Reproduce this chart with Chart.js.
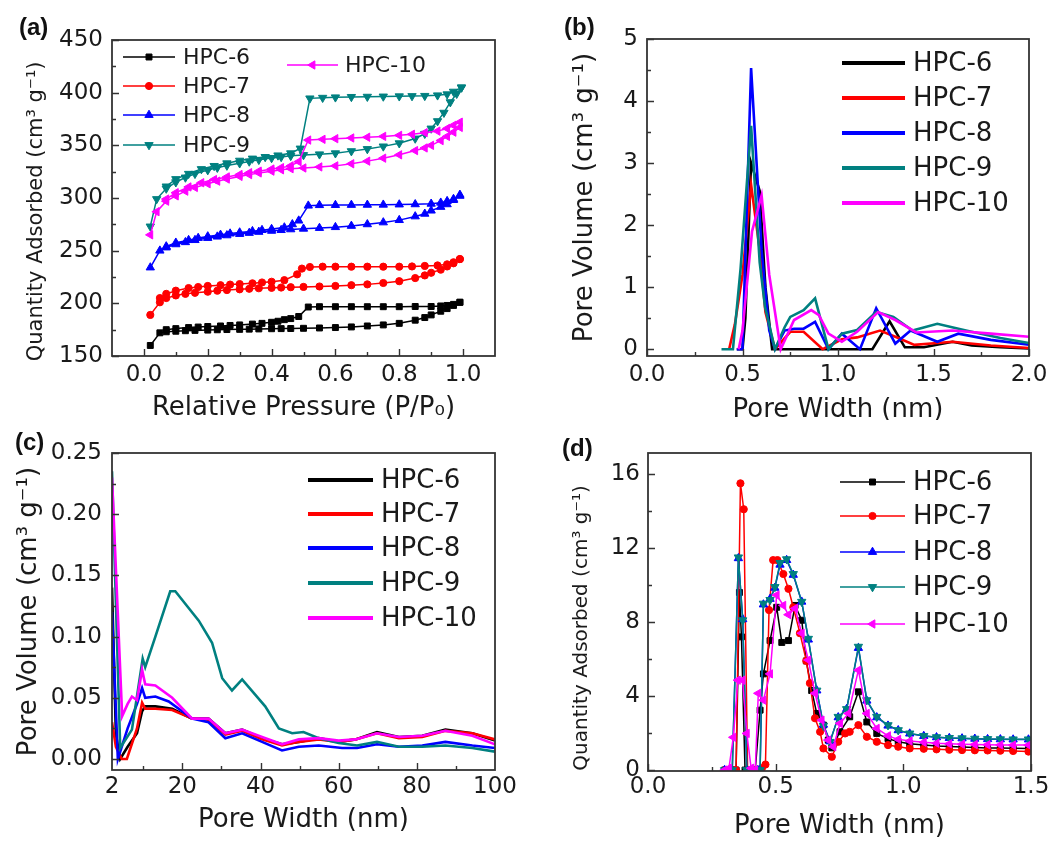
<!DOCTYPE html>
<html><head><meta charset="utf-8">
<script src="https://cdn.jsdelivr.net/npm/chart.js@4.4.1/dist/chart.umd.min.js"></script>
<style>
body{margin:0;background:#fff;width:1061px;height:843px;position:relative;overflow:hidden;font-family:'DejaVu Sans',sans-serif}
canvas{position:absolute}
.lbl{position:absolute;font:bold 24px 'Liberation Sans',Arial,sans-serif;line-height:24px;color:#111}
</style></head><body>
<canvas id="ca" width="530" height="420" style="left:0;top:0"></canvas>
<canvas id="cb" width="531" height="420" style="left:530px;top:0"></canvas>
<canvas id="cc" width="530" height="423" style="left:0;top:420px"></canvas>
<canvas id="cd" width="531" height="423" style="left:530px;top:420px"></canvas>
<div class="lbl" style="left:19px;top:15px">(a)</div>
<div class="lbl" style="left:564px;top:15px">(b)</div>
<div class="lbl" style="left:15px;top:430px">(c)</div>
<div class="lbl" style="left:562px;top:436px">(d)</div>
<script>
// ---------- names & colours ----------
const names = ['HPC-6','HPC-7','HPC-8','HPC-9','HPC-10'];
const colors = ['#000000','#ff0000','#0000ff','#008080','#ff00ff'];

// ---------- (a) N2 isotherms: adsorption + desorption branches ----------
const a6AdsP = [0.02,0.05,0.07,0.1,0.13,0.16,0.2,0.23,0.26,0.3,0.33,0.36,0.4,0.43,0.46,0.5,0.55,0.6,0.65,0.7,0.75,0.8,0.85,0.88,0.9,0.93,0.95,0.97,0.99];
const a6AdsQ = [160,172,173,173.5,174,174.3,174.6,174.9,175.1,175.3,175.5,175.7,175.9,176,176.1,176.3,176.6,177,177.6,178.5,179.5,181,184,186.5,189,192.5,195,198,201];
const a6DesP = [0.99,0.97,0.95,0.93,0.9,0.85,0.8,0.75,0.7,0.65,0.6,0.55,0.515,0.485,0.46,0.44,0.42,0.4,0.37,0.34,0.3,0.27,0.24,0.2,0.17,0.14,0.1,0.07];
const a6DesQ = [201,199,198,197.5,197,197,196.8,196.8,196.8,196.8,196.8,196.8,196.5,187.5,185.5,184.5,183,182,181,180.3,179.5,179,178.5,178,177.5,177,176,175];

const a7AdsP = [0.02,0.05,0.07,0.1,0.13,0.16,0.2,0.23,0.26,0.3,0.33,0.36,0.4,0.43,0.46,0.5,0.55,0.6,0.65,0.7,0.75,0.8,0.85,0.88,0.9,0.93,0.95,0.97,0.99];
const a7AdsQ = [189,201,205,207.5,209,210,211,212,212.6,213.3,213.8,214.3,214.7,215,215.3,215.6,216,216.5,217.2,218,219.3,221,224,226.5,229,232,235,238,242];
const a7DesP = [0.99,0.97,0.95,0.92,0.88,0.84,0.8,0.75,0.7,0.65,0.6,0.56,0.52,0.495,0.48,0.44,0.4,0.37,0.34,0.3,0.27,0.24,0.2,0.17,0.14,0.1,0.07,0.05];
const a7DesQ = [242,239,237,236,235.5,235,234.8,234.8,234.8,234.8,234.8,234.8,234.5,233,227.5,222,220.5,219.8,219,218.3,217.8,217.2,216.5,215.5,214.5,212,209,205];

const a8AdsP = [0.02,0.05,0.07,0.1,0.13,0.16,0.2,0.23,0.26,0.3,0.33,0.36,0.4,0.43,0.46,0.5,0.55,0.6,0.65,0.7,0.75,0.8,0.85,0.88,0.9,0.93,0.95,0.97,0.99];
const a8AdsQ = [234,250,253,256,258,260,262,263.3,264.5,265.8,266.8,267.8,268.8,269.5,270.2,270.8,271.5,272.3,273.5,275,276.8,279,282.5,285,288,291.5,294,298,303];
const a8DesP = [0.99,0.97,0.95,0.93,0.9,0.85,0.8,0.75,0.7,0.65,0.6,0.55,0.515,0.485,0.465,0.44,0.4,0.37,0.34,0.3,0.27,0.24,0.2,0.17,0.14,0.1,0.07];
const a8DesQ = [302,299,297,295.5,294.5,294,293.8,293.6,293.5,293.4,293.3,293.2,292.7,278.5,275,272,270.5,269.5,268.5,267.2,266.2,265,263.5,262,260,257.5,254];

const a9AdsP = [0.02,0.04,0.07,0.1,0.13,0.16,0.2,0.23,0.26,0.3,0.33,0.36,0.4,0.43,0.46,0.5,0.55,0.6,0.65,0.7,0.75,0.8,0.85,0.88,0.9,0.92,0.94,0.96,0.98,0.995];
const a9AdsQ = [273,299,309,315,319.5,323,326.5,328.8,330.8,333,334.7,336.3,338,339,340,340.8,341.5,342.5,344.5,346.5,349,352,356.5,361,366,373,381,391,399,405];
const a9DesP = [0.995,0.97,0.95,0.92,0.88,0.84,0.8,0.75,0.7,0.65,0.6,0.56,0.52,0.49,0.46,0.42,0.38,0.34,0.3,0.26,0.22,0.18,0.14,0.1,0.07];
const a9DesQ = [405,401,398.5,397.5,397,396.8,396.6,396.4,396.2,396,395.6,395.2,394.6,347,342.5,340.5,339,337.5,335.5,333,330.5,327.5,323,318,311];

const a10AdsP = [0.02,0.04,0.07,0.1,0.13,0.16,0.2,0.23,0.26,0.3,0.33,0.36,0.4,0.43,0.46,0.5,0.55,0.6,0.65,0.7,0.75,0.8,0.85,0.88,0.9,0.93,0.95,0.97,0.99];
const a10AdsQ = [265,287,297,302,306.5,310,313.5,316,318,320.5,322.2,323.8,325.5,326.8,327.8,328.5,329.5,330.5,332.5,335,337.8,341,345,347.5,350,354.5,358.5,362.5,367];
const a10DesP = [0.99,0.97,0.95,0.92,0.88,0.84,0.8,0.75,0.7,0.65,0.6,0.56,0.515,0.485,0.46,0.43,0.4,0.36,0.33,0.3,0.26,0.22,0.18,0.14,0.1,0.07];
const a10DesQ = [372,369,366,363.5,362,360.5,359.5,358.5,357.7,357,356.3,355.7,355,334.5,330.5,328.8,327.5,325.5,324,322.3,320,317.5,314.5,310.5,305,299];

const aXLabels = [0,0.2,0.4,0.6,0.8,1.0];
const aXMinor = [0.1,0.3,0.5,0.7,0.9];
const aYLabels = [150,200,250,300,350,400,450];
const aYMinor = [175,225,275,325,375,425];

// ---------- (b) pore size distribution < 2 nm ----------
const b6X = [0.47,0.5,0.515,0.545,0.59,0.62,0.655,0.7,0.8,0.9,1.0,1.1,1.18,1.27,1.35,1.45,1.6,1.7,1.85,2.0];
const b6Y = [0,0,0.5,3.0,2.55,1.0,0,0,0,0,0,0,0,0.45,0.03,0.03,0.12,0.06,0.03,0.01];
const b7X = [0.43,0.46,0.5,0.545,0.59,0.62,0.67,0.75,0.82,0.92,1.02,1.1,1.22,1.3,1.4,1.52,1.6,1.8,2.0];
const b7Y = [0,0.4,1.2,2.65,1.6,0.6,0,0.28,0.28,0,0.16,0.19,0.3,0.2,0.07,0.1,0.12,0.06,0.02];
const b8X = [0.47,0.5,0.545,0.6,0.64,0.67,0.72,0.77,0.82,0.88,0.95,1.02,1.115,1.2,1.3,1.38,1.52,1.63,1.8,2.0];
const b8Y = [0,0,4.53,1.6,0.3,0,0.3,0.33,0.33,0.44,0,0.25,0,0.66,0.09,0.3,0.12,0.25,0.15,0.07];
const b9X = [0.39,0.45,0.49,0.545,0.59,0.618,0.67,0.72,0.75,0.82,0.88,0.95,1.02,1.1,1.2,1.29,1.39,1.52,1.67,1.85,2.0];
const b9Y = [0,0,1.3,3.6,1.4,0.68,0,0.35,0.52,0.63,0.82,0,0.25,0.31,0.6,0.52,0.3,0.41,0.3,0.18,0.1];
const b10X = [0.48,0.5,0.55,0.6,0.64,0.7,0.77,0.86,0.9,0.95,1.02,1.1,1.21,1.3,1.41,1.6,1.8,2.0];
const b10Y = [0,0.3,1.9,2.48,1.2,0,0.47,0.63,0.55,0.25,0.12,0.28,0.6,0.47,0.27,0.3,0.25,0.2];
const bXLabels = [0,0.5,1.0,1.5,2.0];
const bXMinor = [0.25,0.75,1.25,1.75];
const bYLabels = [0,1,2,3,4,5];
const bYMinor = [0.5,1.5,2.5,3.5,4.5];

// ---------- (c) pore size distribution 2-100 nm ----------
const c6X = [2,3,4.1,6,8.4,9.7,10.5,13.1,17.4,22.5,26.7,31,35.3,40.4,45.5,49.8,54.9,60,64.3,69.8,75.4,81.4,87.3,94.2,100];
const c6Y = [0.14,0.02,0,0.01,0.021,0.039,0.043,0.043,0.041,0.033,0.033,0.021,0.024,0.017,0.012,0.014,0.017,0.014,0.016,0.022,0.018,0.019,0.024,0.021,0.015];
const c7X = [2,3,4.5,5.8,8.4,9.7,10.5,13.1,17.4,22.5,26.7,31,35.3,40.4,45.5,49.8,54.9,60,64.3,69.8,75.4,81.4,87.3,94.2,100];
const c7Y = [0.03,0.01,0,0,0.025,0.046,0.041,0.041,0.04,0.033,0.032,0.02,0.023,0.016,0.011,0.014,0.016,0.014,0.016,0.021,0.017,0.018,0.023,0.021,0.016];
const c8X = [2,3.5,6,8.4,9.3,9.7,10.5,13.1,16.5,22.5,26.7,31,35.3,40.4,45.5,49.8,54.9,60.9,64.7,69.8,75.4,81.4,87.3,94.2,100];
const c8Y = [0.12,0,0.025,0.045,0.054,0.058,0.05,0.051,0.047,0.033,0.03,0.017,0.021,0.014,0.007,0.01,0.011,0.009,0.009,0.012,0.01,0.011,0.014,0.011,0.009];
const c9X = [2,4.1,7.1,9.85,10.5,13.1,16.9,18.2,21.2,24.2,27.6,30.2,32.7,35.3,41.2,44.7,48.1,51,54.9,60,64.7,69.8,75.4,81.4,87.3,94.2,100];
const c9Y = [0.235,0.009,0.024,0.082,0.075,0.1,0.137,0.137,0.125,0.113,0.095,0.066,0.056,0.065,0.043,0.025,0.021,0.022,0.017,0.013,0.011,0.014,0.01,0.01,0.011,0.009,0.006];
const c10X = [2,4.6,6,7.1,8.4,9.7,10.5,13.1,17.4,22.5,26.7,31,35.3,40.4,45.5,49.8,54.9,60,64.3,69.8,75.4,81.4,87.3,94.2,100];
const c10Y = [0.23,0.035,0.045,0.051,0.048,0.073,0.061,0.06,0.05,0.033,0.033,0.021,0.024,0.018,0.012,0.016,0.017,0.015,0.016,0.021,0.018,0.019,0.023,0.019,0.012];
const cXLabels = [2,20,40,60,80,100];
const cXMajor = [20,40,60,80];
const cXMinor = [10,30,50,70,90];
const cYLabels = [0,0.05,0.10,0.15,0.20,0.25];
const cYMinor = [0.025,0.075,0.125,0.175,0.225];

// ---------- (d) CO2 pore size distribution ----------
const d6X = [0.3,0.33,0.345,0.358,0.366,0.38,0.4,0.42,0.439,0.452,0.478,0.504,0.524,0.55,0.576,0.602,0.62,0.641,0.661,0.687,0.706,0.72,0.752,0.79,0.824,0.857,0.896,0.94,0.98,1.025,1.08,1.13,1.18,1.23,1.28,1.33,1.38,1.43,1.49];
const d6Y = [0,0,0,9.6,7.2,0,0,0,3.24,5.2,7.0,8.8,6.9,7.0,8.9,8.1,5.9,4.3,3.06,2.43,1.62,1.2,2.07,2.88,4.23,2.6,1.98,1.7,1.53,1.42,1.35,1.3,1.27,1.25,1.22,1.2,1.19,1.18,1.17];
const d7X = [0.3,0.33,0.345,0.362,0.375,0.39,0.41,0.43,0.446,0.46,0.474,0.49,0.507,0.53,0.55,0.569,0.595,0.62,0.634,0.654,0.674,0.687,0.72,0.745,0.772,0.79,0.824,0.857,0.896,0.94,0.98,1.025,1.08,1.13,1.18,1.23,1.28,1.33,1.38,1.43,1.49];
const d7Y = [0,0,0,15.5,14.1,0,0,0,0.1,0.3,8.65,11.35,11.35,10.6,9.8,8.8,7.4,5.9,4.7,2.8,2.07,1.17,0.72,1.53,1.98,2.07,2.43,1.8,1.53,1.35,1.26,1.17,1.15,1.12,1.1,1.08,1.07,1.06,1.05,1.03,1.0];
const d8X = [0.3,0.33,0.354,0.371,0.387,0.41,0.43,0.439,0.452,0.478,0.497,0.517,0.543,0.569,0.602,0.628,0.661,0.687,0.713,0.745,0.778,0.824,0.857,0.896,0.94,0.98,1.025,1.08,1.13,1.18,1.23,1.28,1.33,1.38,1.43,1.49];
const d8Y = [0,0,11.45,8.15,0,0,0,0,8.95,9.25,9.85,11.1,11.35,10.55,9.1,7.05,4.3,2.45,1.55,2.85,3.3,6.6,3.75,2.85,2.4,2.15,1.97,1.84,1.77,1.73,1.71,1.69,1.67,1.66,1.65,1.65];
const d9X = [0.3,0.33,0.354,0.371,0.387,0.41,0.43,0.439,0.452,0.478,0.497,0.517,0.543,0.569,0.602,0.628,0.661,0.687,0.713,0.745,0.778,0.824,0.857,0.896,0.94,0.98,1.025,1.08,1.13,1.18,1.23,1.28,1.33,1.38,1.43,1.49];
const d9Y = [0,0,11.5,8.1,0,0,0,0,9.0,9.2,9.9,11.2,11.4,10.6,9.1,7.1,4.3,2.4,1.53,2.88,3.3,6.67,3.78,2.88,2.43,2.16,1.98,1.85,1.78,1.74,1.72,1.7,1.68,1.67,1.66,1.66];
const d10X = [0.3,0.317,0.334,0.352,0.37,0.387,0.404,0.42,0.432,0.452,0.478,0.504,0.53,0.55,0.576,0.602,0.628,0.654,0.68,0.706,0.726,0.752,0.785,0.824,0.857,0.896,0.94,0.98,1.025,1.08,1.13,1.18,1.23,1.28,1.33,1.38,1.43,1.49];
const d10Y = [0,0.1,1.77,4.86,4.86,1.98,0.1,0,4.15,3.78,5.2,9.46,8.9,8.4,8.74,7.4,5.95,4.15,2.7,1.62,1.26,2.52,3.06,5.4,3.06,2.25,1.85,1.66,1.57,1.5,1.45,1.42,1.4,1.38,1.37,1.36,1.35,1.35];
const dXLabels = [0,0.5,1.0,1.5];
const dXMinor = [0.25,0.75,1.25];
const dYLabels = [0,4,8,12,16];
const dYMinor = [2,6,10,14];

// ---------- helpers ----------
Chart.defaults.font.family = "'DejaVu Sans', sans-serif";
Chart.defaults.color = '#1a1a1a';
const markers = [
  {pointStyle:'rect', rotation:0, r:4.2},
  {pointStyle:'circle', rotation:0, r:3.6},
  {pointStyle:'triangle', rotation:0, r:4.8},
  {pointStyle:'triangle', rotation:180, r:4.8},
  {pointStyle:'triangle', rotation:270, r:4.8}
];
function pts(xs, ys){ return xs.map((x,i)=>({x:x, y:ys[i]})); }
function ds(i, data, withMarkers, lw){
  const m = markers[i];
  return {
    label:names[i], data:data, borderColor:colors[i], backgroundColor:colors[i],
    borderWidth:lw, tension:0, fill:false, order:4-i,
    pointRadius: withMarkers ? m.r : 0, pointStyle:m.pointStyle, rotation:m.rotation,
    pointBorderWidth:1, pointBackgroundColor:colors[i], pointBorderColor:colors[i]
  };
}

const framePlugin = {
  id:'frame',
  afterDraw(chart, args, o){
    const ctx = chart.ctx, a = chart.chartArea, xs = chart.scales.x, ys = chart.scales.y;
    ctx.save();
    ctx.strokeStyle = '#333'; ctx.lineWidth = 1.8;
    ctx.strokeRect(a.left, a.top, a.right-a.left, a.bottom-a.top);
    ctx.lineWidth = 1.4; ctx.beginPath();
    o.xMajor.forEach(v=>{const p=Math.round(xs.getPixelForValue(v))+0.5; ctx.moveTo(p,a.bottom); ctx.lineTo(p,a.bottom-7);});
    o.xMinor.forEach(v=>{const p=Math.round(xs.getPixelForValue(v))+0.5; ctx.moveTo(p,a.bottom); ctx.lineTo(p,a.bottom-4);});
    o.yMajor.forEach(v=>{const p=Math.round(ys.getPixelForValue(v))+0.5; ctx.moveTo(a.left,p); ctx.lineTo(a.left+7,p);});
    o.yMinor.forEach(v=>{const p=Math.round(ys.getPixelForValue(v))+0.5; ctx.moveTo(a.left,p); ctx.lineTo(a.left+4,p);});
    ctx.stroke();
    // legend
    const L = o.legend;
    ctx.font = L.size + "px 'DejaVu Sans'";
    ctx.textBaseline = 'middle'; ctx.textAlign = 'left';
    L.rows.forEach(r=>{
      const d = chart.data.datasets[r.i];
      ctx.strokeStyle = colors[r.i]; ctx.fillStyle = colors[r.i];
      ctx.lineWidth = L.lw;
      ctx.beginPath(); ctx.moveTo(r.x1, r.y); ctx.lineTo(r.x2, r.y); ctx.stroke();
      if (L.markers){
        ctx.lineWidth = 1;
        Chart.helpers.drawPoint(ctx, {pointStyle:d.pointStyle, rotation:d.rotation, radius:d.pointRadius, borderWidth:1}, (r.x1+r.x2)/2, r.y);
      }
      ctx.fillStyle = '#1a1a1a';
      ctx.fillText(names[r.i], r.tx, r.y+1);
    });
    ctx.restore();
  }
};

function make(id, o){
  return new Chart(document.getElementById(id), {
    type:'line',
    data:{datasets:o.datasets},
    options:{
      responsive:false, animation:false, events:[],
      layout:{padding:{left:0, top:o.top, right:o.right, bottom:0}},
      plugins:{legend:{display:false}, tooltip:{enabled:false}, frame:o.frame},
      scales:{
        x:{type:'linear', min:o.xmin, max:o.xmax,
          grid:{display:false, drawTicks:false}, border:{display:false},
          afterBuildTicks:s=>{ s.ticks = o.xLab.map(v=>({value:v})); },
          afterFit:s=>{ s.height = o.xH; },
          ticks:{autoSkip:false, maxRotation:0, padding:o.xPad, font:{size:23}, callback:o.xFmt},
          title:{display:true, text:o.xTitle, font:{size:26}, padding:{top:0, bottom:o.xTitlePad}}
        },
        y:{type:'linear', min:o.ymin, max:o.ymax,
          grid:{display:false, drawTicks:false}, border:{display:false},
          afterBuildTicks:s=>{ s.ticks = o.yLab.map(v=>({value:v})); },
          afterFit:s=>{ s.width = o.yW; },
          ticks:{autoSkip:false, padding:o.yPad, font:{size:23}, callback:o.yFmt},
          title:{display:true, text:o.yTitle, font:{size:o.yTitleSize}, padding:{top:o.yTitlePad, bottom:0}}
        }
      }
    },
    plugins:[framePlugin]
  });
}

// ---------- (a) ----------
make('ca', {
  datasets:[
    ds(0, pts(a6AdsP.concat(a6DesP), a6AdsQ.concat(a6DesQ)), true, 1.5),
    ds(1, pts(a7AdsP.concat(a7DesP), a7AdsQ.concat(a7DesQ)), true, 1.5),
    ds(2, pts(a8AdsP.concat(a8DesP), a8AdsQ.concat(a8DesQ)), true, 1.5),
    ds(3, pts(a9AdsP.concat(a9DesP), a9AdsQ.concat(a9DesQ)), true, 1.5),
    ds(4, pts(a10AdsP.concat(a10DesP), a10AdsQ.concat(a10DesQ)), true, 1.5)
  ],
  top:40, right:35, yW:112, xH:64,
  xmin:-0.1, xmax:1.1, ymin:150, ymax:450,
  xLab:aXLabels, yLab:aYLabels,
  xFmt:v=>v.toFixed(1), yFmt:v=>String(v),
  xPad:5, yPad:9,
  xTitle:'Relative Pressure (P/P\u2080)', xTitlePad:-4,
  yTitle:'Quantity Adsorbed (cm\u00B3 g\u207B\u00B9)    ', yTitleSize:21, yTitlePad:24,
  frame:{xMajor:aXLabels, xMinor:aXMinor, yMajor:aYLabels, yMinor:aYMinor,
    legend:{size:22, lw:1.5, markers:true, rows:[
      {i:0,x1:123,x2:175,y:57,tx:183},
      {i:1,x1:123,x2:175,y:86,tx:183},
      {i:2,x1:123,x2:175,y:115,tx:183},
      {i:3,x1:123,x2:175,y:145,tx:183},
      {i:4,x1:287,x2:338,y:65,tx:345}
    ]}}
});

// ---------- (b) ----------
make('cb', {
  datasets:[
    ds(0, pts(b6X,b6Y), false, 2.6),
    ds(1, pts(b7X,b7Y), false, 2.6),
    ds(2, pts(b8X,b8Y), false, 2.6),
    ds(3, pts(b9X,b9Y), false, 2.6),
    ds(4, pts(b10X,b10Y), false, 2.6)
  ],
  top:39, right:32, yW:117, xH:64,
  xmin:0, xmax:2, ymin:-0.11, ymax:5,
  xLab:bXLabels, yLab:bYLabels,
  xFmt:v=>v.toFixed(1), yFmt:v=>String(v),
  xPad:5, yPad:9,
  xTitle:'Pore Width (nm)', xTitlePad:-6,
  yTitle:'Pore Volume (cm\u00B3 g\u207B\u00B9)', yTitleSize:26, yTitlePad:40,
  frame:{xMajor:bXLabels, xMinor:bXMinor, yMajor:bYLabels, yMinor:bYMinor,
    legend:{size:26, lw:4, markers:false, rows:[
      {i:0,x1:312,x2:375,y:63,tx:383},
      {i:1,x1:312,x2:375,y:98,tx:383},
      {i:2,x1:312,x2:375,y:133,tx:383},
      {i:3,x1:312,x2:375,y:168,tx:383},
      {i:4,x1:312,x2:375,y:203,tx:383}
    ]}}
});

// ---------- (c) ----------
make('cc', {
  datasets:[
    ds(0, pts(c6X,c6Y), false, 2.6),
    ds(1, pts(c7X,c7Y), false, 2.6),
    ds(2, pts(c8X,c8Y), false, 2.6),
    ds(3, pts(c9X,c9Y), false, 2.6),
    ds(4, pts(c10X,c10Y), false, 2.6)
  ],
  top:33, right:35, yW:112, xH:73,
  xmin:2, xmax:100, ymin:-0.009, ymax:0.25,
  xLab:cXLabels, yLab:cYLabels,
  xFmt:v=>String(v), yFmt:v=>v.toFixed(2),
  xPad:3, yPad:10,
  xTitle:'Pore Width (nm)', xTitlePad:7,
  yTitle:'Pore Volume (cm\u00B3 g\u207B\u00B9)', yTitleSize:26, yTitlePad:14,
  frame:{xMajor:cXMajor, xMinor:cXMinor, yMajor:cYLabels, yMinor:cYMinor,
    legend:{size:26, lw:4, markers:false, rows:[
      {i:0,x1:308,x2:373,y:60,tx:381},
      {i:1,x1:308,x2:373,y:94,tx:381},
      {i:2,x1:308,x2:373,y:128,tx:381},
      {i:3,x1:308,x2:373,y:163,tx:381},
      {i:4,x1:308,x2:373,y:198,tx:381}
    ]}}
});

// ---------- (d) ----------
make('cd', {
  datasets:[
    ds(0, pts(d6X,d6Y), true, 1.5),
    ds(1, pts(d7X,d7Y), true, 1.5),
    ds(2, pts(d8X,d8Y), true, 1.5),
    ds(3, pts(d9X,d9Y), true, 1.5),
    ds(4, pts(d10X,d10Y), true, 1.5)
  ],
  top:33, right:30, yW:118, xH:72,
  xmin:0, xmax:1.5, ymin:-0.05, ymax:17.14,
  xLab:dXLabels, yLab:dYLabels,
  xFmt:v=>v.toFixed(1), yFmt:v=>String(v),
  xPad:2, yPad:8,
  xTitle:'Pore Width (nm)', xTitlePad:1,
  yTitle:'Quantity Adsorbed (cm\u00B3 g\u207B\u00B9)     ', yTitleSize:20, yTitlePad:40,
  frame:{xMajor:dXLabels, xMinor:dXMinor, yMajor:dYLabels, yMinor:dYMinor,
    legend:{size:26, lw:1.5, markers:true, rows:[
      {i:0,x1:310,x2:375,y:62,tx:383},
      {i:1,x1:310,x2:375,y:96,tx:383},
      {i:2,x1:310,x2:375,y:132,tx:383},
      {i:3,x1:310,x2:375,y:167,tx:383},
      {i:4,x1:310,x2:375,y:204,tx:383}
    ]}}
});
</script>
</body></html>
